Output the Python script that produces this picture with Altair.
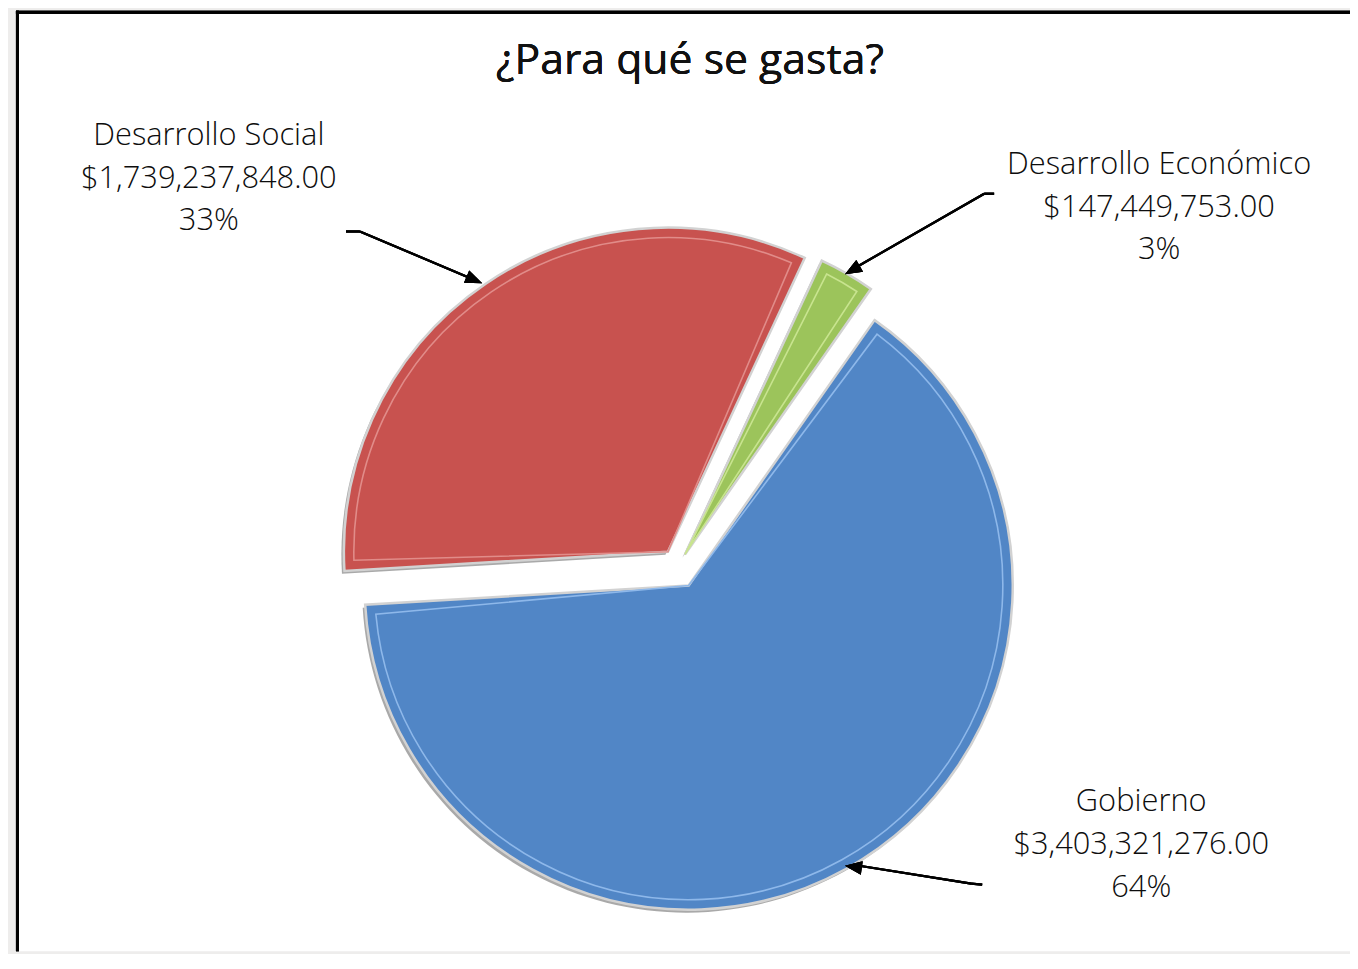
import math
import altair as alt
import pandas as pd

# ---------------- data ----------------
CATEGORIES = ["Gobierno", "Desarrollo Social", "Desarrollo Económico"]
AMOUNTS = [3403321276.00, 1739237848.00, 147449753.00]
ORDER = [0, 1, 2]
TITLE = "¿Para qué se gasta?"

# ---------------- style / layout ----------------
COLORS = {"Gobierno": "#5186C6", "Desarrollo Social": "#C8524F", "Desarrollo Económico": "#9CC45B"}
LIGHT = {"Gobierno": "#8EB8EA", "Desarrollo Social": "#E18C89", "Desarrollo Económico": "#C8E48F"}
EXPLODE = {"Gobierno": 22, "Desarrollo Social": 18, "Desarrollo Económico": 14}
W, H = 1342, 946
CX, CY, R = 666, 559, 326
START = math.radians(35)
LABEL_POS = {"Gobierno": (1132, 805), "Desarrollo Social": (194, 135), "Desarrollo Económico": (1150, 164)}
# leader lines: list of segments, then arrow tip + rotation angle
LEADERS = {
    "Desarrollo Social": ([(332, 222, 346, 222), (346, 222, 462, 271)], (469, 274, 112.9)),
    "Desarrollo Económico": ([(984, 184, 974, 184), (974, 184, 840, 261)], (834, 265, 240.0)),
    "Gobierno": ([(972, 879, 961, 878), (961, 878, 842, 859)], (834, 860, 278.0)),
}
ARROW = "M0,0L-0.4,1L0.4,1Z"
LABEL_FONT = "Open Sans"

df = pd.DataFrame({"cat": CATEGORIES, "value": AMOUNTS, "order": ORDER})

base = (
    alt.Chart(df)
    .transform_joinaggregate(total="sum(value)")
    .transform_window(cum="sum(value)", sort=[alt.SortField("order", order="ascending")], frame=[None, 0])
    .transform_calculate(
        f0="(datum.cum - datum.value) / datum.total",
        f1="datum.cum / datum.total",
        frac="datum.value / datum.total",
    )
)

THETA = alt.Theta("f0:Q", scale=alt.Scale(domain=[0, 1], range=[START, START + 2 * math.pi]))
THETA2 = alt.Theta2("f1:Q")

total = sum(AMOUNTS)
layers = []
cum = 0.0
for cat, v in zip(CATEGORIES, AMOUNTS):
    mid = START + 2 * math.pi * (cum + v / 2) / total
    cum += v
    d = EXPLODE[cat]
    cx = CX + d * math.sin(mid)
    cy = CY - d * math.cos(mid)
    sl = base.transform_filter(alt.datum.cat == cat)
    shadow = sl.mark_arc(radius=R, fill="#8c8c8c", opacity=0.75).encode(
        theta=THETA, theta2=THETA2, x=alt.value(cx - 2.5), y=alt.value(cy + 3)
    )
    main = sl.mark_arc(radius=R, fill=COLORS[cat], stroke="#d2d2d2", strokeWidth=2.5).encode(
        theta=THETA, theta2=THETA2, x=alt.value(cx), y=alt.value(cy)
    )
    bevel = sl.mark_arc(
        radius=R - 10, padAngle=0.064, filled=False, stroke=LIGHT[cat], strokeWidth=1.6
    ).encode(theta=THETA, theta2=THETA2, x=alt.value(cx), y=alt.value(cy))
    layers += [shadow, main, bevel]

# labels
for cat in CATEGORIES:
    lx, ly = LABEL_POS[cat]
    lab = (
        base.transform_filter(alt.datum.cat == cat)
        .transform_calculate(label="[datum.cat, format(datum.value, '$,.2f'), format(datum.frac, '.0%')]")
        .mark_text(font=LABEL_FONT, fontSize=31, fontWeight=300, lineHeight=43, align="center",
                   baseline="alphabetic", color="#0d0d0d")
        .encode(text="label:N", x=alt.value(lx), y=alt.value(ly))
    )
    layers.append(lab)

# leader lines with arrowheads
for cat in CATEGORIES:
    segs, (tx, ty, ang) = LEADERS[cat]
    for (x1, y1, x2, y2) in segs:
        layers.append(
            alt.Chart(df).mark_rule(color="black", strokeWidth=2.2).encode(
                x=alt.value(x1), y=alt.value(y1), x2=alt.value(x2), y2=alt.value(y2)
            )
        )
    layers.append(
        alt.Chart(df).mark_point(shape=ARROW, size=1156, filled=True, color="black", opacity=1, angle=ang).encode(
            x=alt.value(tx), y=alt.value(ty)
        )
    )

# title
layers.append(
    alt.Chart(df).mark_text(font="Open Sans", fontSize=43, align="center", baseline="alphabetic", color="#111111")
    .encode(text=alt.value(TITLE), x=alt.value(678), y=alt.value(64))
)

# frame border (left and top)
layers.append(alt.Chart(df).mark_rule(color="black", strokeWidth=3).encode(
    x=alt.value(1.5), y=alt.value(0), y2=alt.value(H)))
layers.append(alt.Chart(df).mark_rule(color="black", strokeWidth=3).encode(
    x=alt.value(0), x2=alt.value(W), y=alt.value(1.5)))

chart = (
    alt.layer(*layers)
    .properties(
        width=W,
        height=H,
        autosize=alt.AutoSizeParams(type="none"),
        padding={"left": 8, "top": 0, "right": 0, "bottom": 0},
        background="#EEEDEC",
    )
    .configure_view(strokeWidth=0, fill="white")
)

chart.save("out.html", embed_options={"renderer": "svg", "actions": False})
